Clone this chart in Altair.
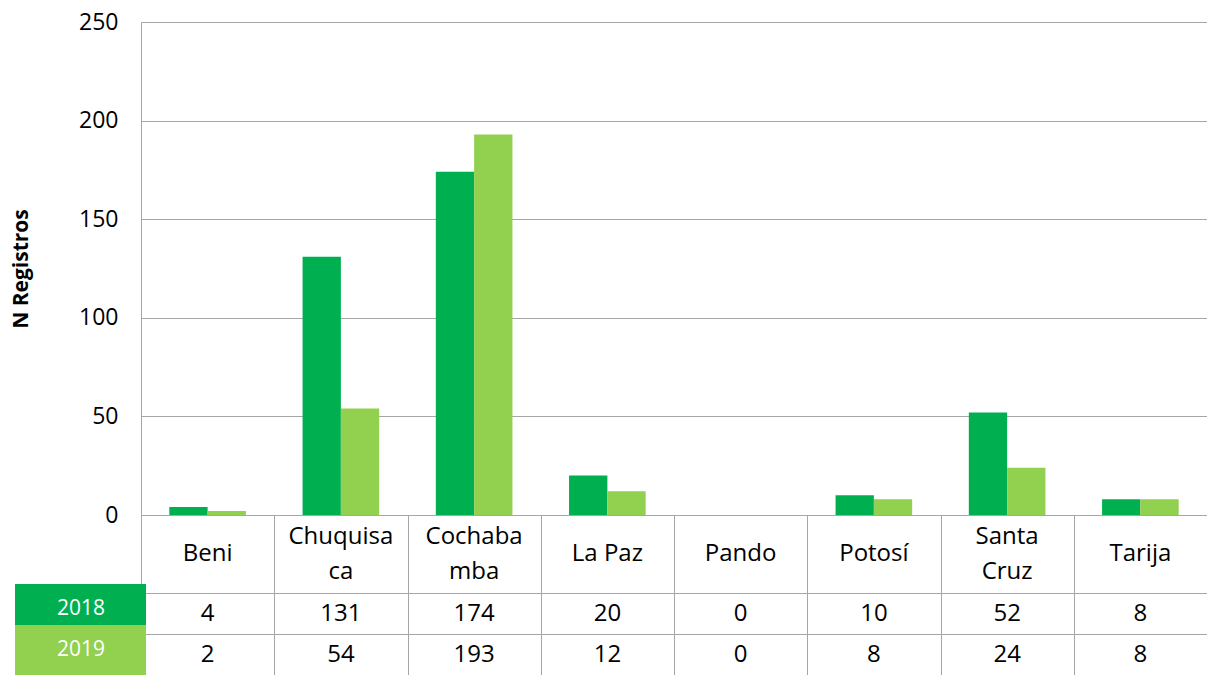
import altair as alt
import pandas as pd

categories = ["Beni", "Chuquisaca", "Cochabamba", "La Paz", "Pando", "Potosí", "Santa Cruz", "Tarija"]
header_labels = ["Beni", "Chuquisa\nca", "Cochaba\nmba", "La Paz", "Pando", "Potosí", "Santa\nCruz", "Tarija"]
years = ["2018", "2019"]
values_2018 = [4, 131, 174, 20, 0, 10, 52, 8]
values_2019 = [2, 54, 193, 12, 0, 8, 24, 8]
colors = ["#00B050", "#92D050"]
y_ticks = [0, 50, 100, 150, 200, 250]

rows = []
for i, c in enumerate(categories):
    rows.append({"cat": c, "year": "2018", "value": values_2018[i]})
    rows.append({"cat": c, "year": "2019", "value": values_2019[i]})
df = pd.DataFrame(rows)
hdr = pd.DataFrame({"cat": categories, "label": header_labels,
                    "multi": ["\n" in s for s in header_labels]})
leg = pd.DataFrame({"year": years})

FONT = "Open Sans"
GRID = "#A6A6A6"
W = 1066
FS = 23
TFS = 24

color = alt.Color("year:N", scale=alt.Scale(domain=years, range=colors), legend=None)

bars = alt.Chart(df).mark_bar().encode(
    x=alt.X("cat:N", sort=categories, axis=None,
            scale=alt.Scale(paddingInner=0.425, paddingOuter=0.2125)),
    xOffset=alt.XOffset("year:N", sort=years, scale=alt.Scale(paddingInner=0, paddingOuter=0)),
    y=alt.Y("value:Q", scale=alt.Scale(domain=[0, 250], nice=False),
            axis=alt.Axis(values=y_ticks, title="N Registros", grid=True, gridColor=GRID,
                          domainColor=GRID, ticks=False, labelFontSize=FS, labelPadding=23,
                          titleFontSize=21, titleFontWeight="bold", titlePadding=47,
                          labelFont=FONT, titleFont=FONT, labelColor="black", titleColor="black")),
    color=color,
).properties(width=W, height=493)

table_x = alt.X("cat:N", sort=categories, scale=alt.Scale(paddingInner=0, paddingOuter=0),
                axis=alt.Axis(title=None, labels=False, ticks=False, domain=False, grid=True,
                              gridColor=GRID, tickBand="extent"))

HH = 78
hdr_single = alt.Chart(hdr).transform_filter("!datum.multi").mark_text(
    fontSize=TFS, font=FONT, baseline="middle", color="black").encode(
    x=table_x, y=alt.value(HH / 2), text="label:N")
hdr_multi = alt.Chart(hdr).transform_filter("datum.multi").mark_text(
    fontSize=TFS, font=FONT, lineBreak="\n", lineHeight=35, baseline="middle", color="black").encode(
    x=table_x, y=alt.value(HH / 2 - 17.5), text="label:N")
header = alt.layer(hdr_single, hdr_multi).properties(width=W, height=HH)

row_y = alt.Y("year:N", sort=years, scale=alt.Scale(paddingInner=0, paddingOuter=0),
              axis=alt.Axis(title=None, labels=False, ticks=False, domain=False, grid=True,
                            gridColor=GRID, tickBand="extent"))

legend_rect_a = alt.Chart(leg).mark_rect(yOffset=-9).encode(
    x=alt.value(-126), x2=alt.value(5), y=row_y, color=color)
legend_rect_b = alt.Chart(leg).transform_filter("datum.year == '2019'").mark_rect().encode(
    x=alt.value(-126), x2=alt.value(5), y=row_y, color=color)
legend_text = alt.Chart(leg).mark_text(fontSize=21, font=FONT, color="white", dy=-5).encode(
    x=alt.value(-60), y=row_y, text="year:N")
vals_text = alt.Chart(df).mark_text(fontSize=TFS, font=FONT, color="black").encode(
    x=table_x, y=row_y, text="value:Q")

values = alt.layer(vals_text, legend_rect_b, legend_rect_a, legend_text).properties(width=W, height=82)

chart = alt.vconcat(bars, header, values, spacing=0, bounds="flush").resolve_scale(
    x="independent", y="independent"
).properties(
    padding={"left": 2, "top": 3, "right": 0, "bottom": 0}
).configure_view(stroke=None)

chart.save("out.html", embed_options={"renderer": "svg", "actions": False})
